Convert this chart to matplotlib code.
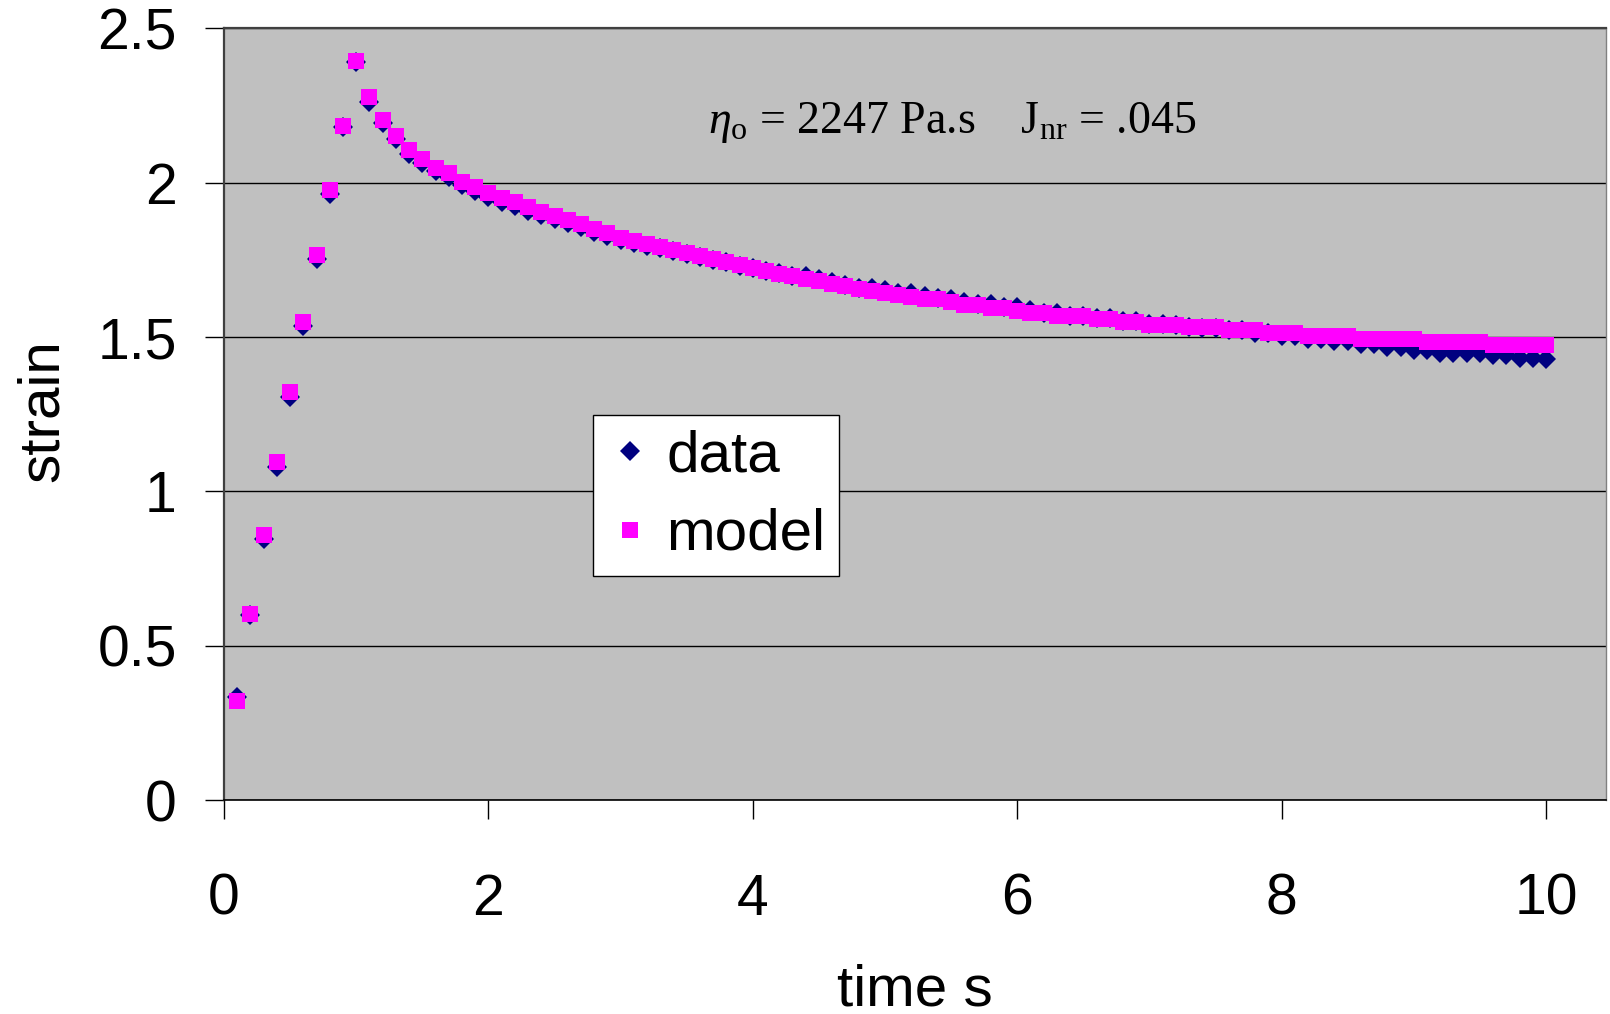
import matplotlib
matplotlib.use("Agg")
import matplotlib.pyplot as plt

time_s = [0.1, 0.2, 0.3, 0.4, 0.5, 0.6, 0.7, 0.8, 0.9, 1.0,
          1.1, 1.2, 1.3, 1.4, 1.5, 1.6, 1.7, 1.8, 1.9, 2.0,
          2.1, 2.2, 2.3, 2.4, 2.5, 2.6, 2.7, 2.8, 2.9, 3.0,
          3.1, 3.2, 3.3, 3.4, 3.5, 3.6, 3.7, 3.8, 3.9, 4.0,
          4.1, 4.2, 4.3, 4.4, 4.5, 4.6, 4.7, 4.8, 4.9, 5.0,
          5.1, 5.2, 5.3, 5.4, 5.5, 5.6, 5.7, 5.8, 5.9, 6.0,
          6.1, 6.2, 6.3, 6.4, 6.5, 6.6, 6.7, 6.8, 6.9, 7.0,
          7.1, 7.2, 7.3, 7.4, 7.5, 7.6, 7.7, 7.8, 7.9, 8.0,
          8.1, 8.2, 8.3, 8.4, 8.5, 8.6, 8.7, 8.8, 8.9, 9.0,
          9.1, 9.2, 9.3, 9.4, 9.5, 9.6, 9.7, 9.8, 9.9, 10.0]

strain_data = [0.336, 0.600, 0.845, 1.080, 1.307, 1.536, 1.753, 1.964, 2.179, 2.390,
               2.262, 2.194, 2.140, 2.094, 2.064, 2.038, 2.017, 1.993, 1.974, 1.955,
               1.938, 1.924, 1.909, 1.895, 1.882, 1.868, 1.855, 1.841, 1.828, 1.816,
               1.806, 1.796, 1.787, 1.778, 1.769, 1.760, 1.751, 1.742, 1.731, 1.724,
               1.714, 1.707, 1.697, 1.697, 1.688, 1.679, 1.670, 1.660, 1.660, 1.653,
               1.644, 1.643, 1.634, 1.626, 1.623, 1.615, 1.607, 1.606, 1.597, 1.597,
               1.588, 1.579, 1.578, 1.569, 1.569, 1.561, 1.561, 1.551, 1.551, 1.542,
               1.541, 1.538, 1.534, 1.531, 1.531, 1.522, 1.522, 1.512, 1.514, 1.504,
               1.504, 1.495, 1.495, 1.486, 1.486, 1.477, 1.477, 1.468, 1.468, 1.458,
               1.458, 1.450, 1.450, 1.450, 1.450, 1.441, 1.441, 1.431, 1.431, 1.428]

strain_model = [0.322, 0.604, 0.859, 1.094, 1.321, 1.549, 1.767, 1.976, 2.185, 2.394,
                2.277, 2.204, 2.150, 2.105, 2.077, 2.049, 2.030, 2.003, 1.985, 1.967,
                1.950, 1.936, 1.921, 1.906, 1.893, 1.879, 1.866, 1.850, 1.836, 1.822,
                1.812, 1.802, 1.792, 1.782, 1.772, 1.762, 1.752, 1.742, 1.732, 1.723,
                1.714, 1.705, 1.697, 1.689, 1.681, 1.673, 1.665, 1.657, 1.650, 1.642,
                1.636, 1.631, 1.622, 1.622, 1.614, 1.604, 1.604, 1.594, 1.594, 1.586,
                1.577, 1.577, 1.567, 1.567, 1.567, 1.559, 1.559, 1.549, 1.549, 1.540,
                1.540, 1.540, 1.532, 1.532, 1.532, 1.522, 1.522, 1.522, 1.512, 1.512,
                1.512, 1.504, 1.504, 1.504, 1.504, 1.494, 1.494, 1.494, 1.494, 1.494,
                1.484, 1.484, 1.484, 1.484, 1.484, 1.475, 1.475, 1.475, 1.475, 1.475]

x_ticks = [0, 2, 4, 6, 8, 10]
y_ticks = [0, 0.5, 1, 1.5, 2, 2.5]
y_tick_labels = ["0", "0.5", "1", "1.5", "2", "2.5"]
series_labels = ["data", "model"]
annotation = r"$\eta_\mathrm{o}$ = 2247 Pa.s    J$_\mathrm{nr}$ = .045"

plt.rcParams["font.family"] = ["Liberation Sans", "DejaVu Sans"]
plt.rcParams["mathtext.fontset"] = "custom"
plt.rcParams["mathtext.rm"] = "Liberation Serif"
plt.rcParams["mathtext.it"] = "Liberation Serif:italic"

W, H = 1610, 1014
fig = plt.figure(figsize=(W / 100, H / 100), dpi=100)
left, right, top, bottom = 224, 1606, 28.3, 800.3
ax = fig.add_axes([left / W, 1 - bottom / H, (right - left) / W, (bottom - top) / H])
ax.set_facecolor("#C0C0C0")
ax.set_xlim(0, (right - left) / 132.2)
ax.set_ylim(0, 2.5)

ax.yaxis.grid(True, color="black", lw=1.0)
ax.set_axisbelow(True)

ax.plot(time_s, strain_data, ls="none", marker="D", ms=10.6, mew=0,
        color="#000080", label=series_labels[0], zorder=3)
ax.plot(time_s, strain_model, ls="none", marker="s", ms=12, mew=0,
        color="#FF00FF", label=series_labels[1], zorder=4)

ax.set_xticks(x_ticks)
ax.set_yticks(y_ticks)
ax.set_yticklabels(y_tick_labels)
ax.tick_params(axis="both", direction="out", length=14, width=1, color="black",
               labelsize=41)
ax.tick_params(axis="y", pad=20)
ax.tick_params(axis="x", pad=38)

for s in ["left", "top"]:
    ax.spines[s].set_color("#404040")
    ax.spines[s].set_linewidth(1.6)
ax.spines["bottom"].set_color("black")
ax.spines["bottom"].set_linewidth(1.2)
ax.spines["right"].set_color("#808080")
ax.spines["right"].set_linewidth(1.0)

ax.set_xlabel("time s", fontsize=42)
ax.set_ylabel("strain", fontsize=42)
ax.xaxis.set_label_coords(0.5, -0.246)
ax.xaxis.label.set_va("center")
ax.yaxis.set_label_coords(-0.131, 0.505)
ax.yaxis.label.set_va("center")

ax.text(5.51, 2.160, annotation, fontsize=33, ha="center", va="baseline",
        family=["Liberation Serif", "DejaVu Serif"])

leg = ax.legend(loc="upper left", bbox_to_anchor=(0.2668, 0.4985), fontsize=42,
                frameon=True, fancybox=False, framealpha=1, edgecolor="black",
                borderpad=0.24, handlelength=0.8, handletextpad=0.22,
                labelspacing=0.42, borderaxespad=0)
leg.get_frame().set_linewidth(1.0)

fig.savefig("out.png", dpi=100)
